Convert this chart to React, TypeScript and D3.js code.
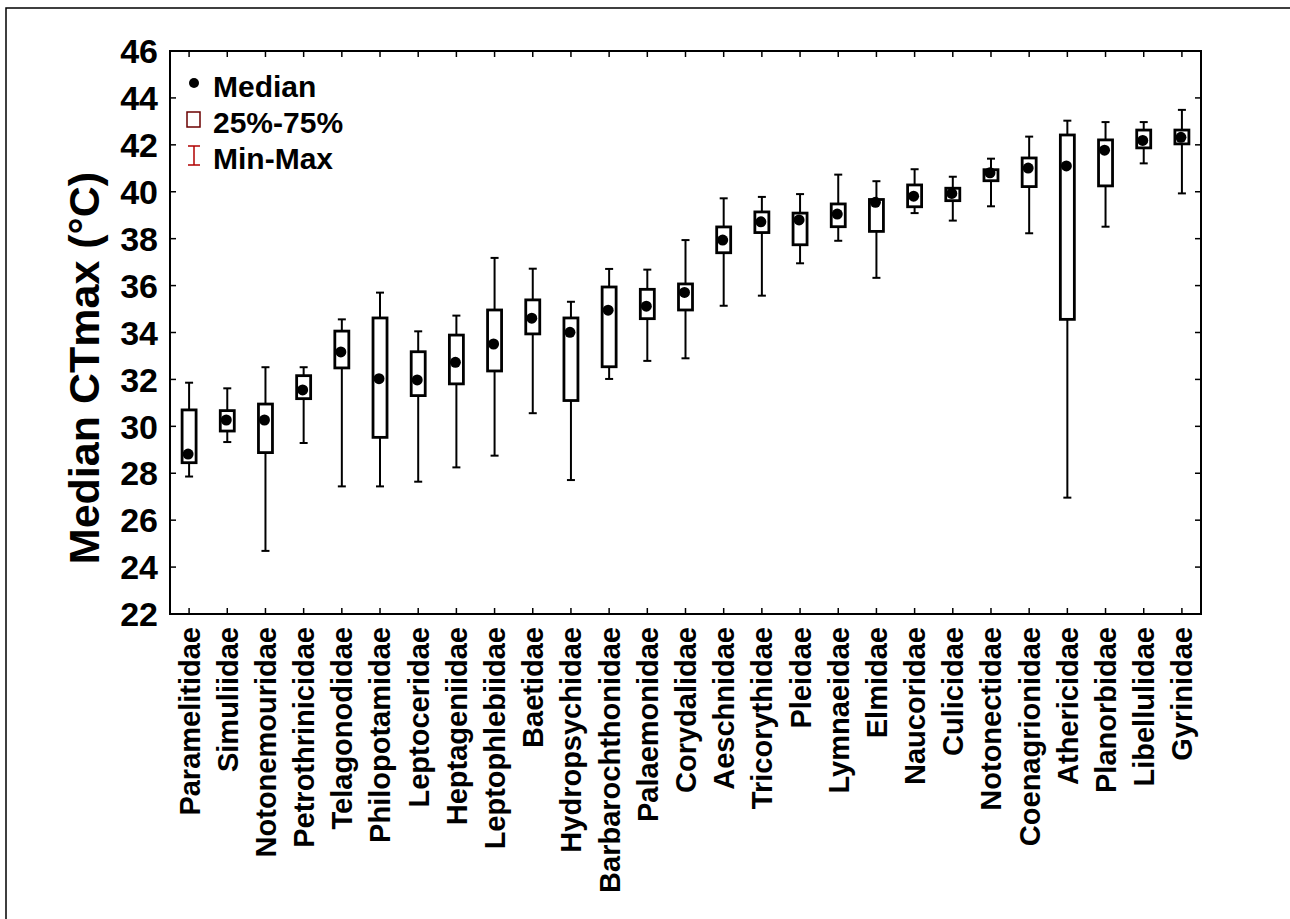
import * as d3 from 'd3'
import { useEffect, useRef } from 'react'

const families = [
    'Paramelitidae', 'Simuliidae', 'Notonemouridae', 'Petrothrinicidae',
    'Telagonodidae', 'Philopotamidae', 'Leptoceridae', 'Heptageniidae',
    'Leptophlebiidae', 'Baetidae', 'Hydropsychidae', 'Barbarochthonidae',
    'Palaemonidae', 'Corydalidae', 'Aeschnidae', 'Tricorythidae', 'Pleidae',
    'Lymnaeidae', 'Elmidae', 'Naucoridae', 'Culicidae', 'Notonectidae',
    'Coenagrionidae', 'Athericidae', 'Planorbidae', 'Libellulidae', 'Gyrinidae',
]
const minValues = [
    27.86, 29.33, 24.69, 29.29, 27.44, 27.44, 27.64, 28.25, 28.75, 30.56,
    27.71, 32.02, 32.79, 32.9, 35.14, 35.57, 36.95, 37.91, 36.33, 39.09,
    38.77, 39.38, 38.23, 26.96, 38.51, 41.21, 39.93,
]
const q1Values = [
    28.45, 29.8, 28.88, 31.18, 32.49, 29.53, 31.31, 31.81, 32.36, 33.94,
    31.1, 32.54, 34.59, 34.96, 37.4, 38.26, 37.74, 38.51, 38.31, 39.36,
    39.62, 40.47, 40.22, 34.56, 40.25, 41.87, 42.04,
]
const medianValues = [
    28.82, 30.27, 30.27, 31.55, 33.17, 32.03, 31.98, 32.73, 33.51, 34.61,
    34.01, 34.95, 35.12, 35.71, 37.94, 38.72, 38.8, 39.05, 39.55, 39.81,
    39.93, 40.81, 41.01, 41.1, 41.77, 42.19, 42.32,
]
const q3Values = [
    30.7, 30.67, 30.95, 32.16, 34.06, 34.62, 33.18, 33.89, 34.96, 35.39,
    34.62, 35.94, 35.84, 36.07, 38.5, 39.14, 39.09, 39.48, 39.67, 40.29,
    40.15, 40.94, 41.44, 42.42, 42.21, 42.63, 42.63,
]
const maxValues = [
    31.86, 31.62, 32.52, 32.52, 34.56, 35.7, 34.05, 34.72, 37.18, 36.72,
    35.31, 36.71, 36.68, 37.94, 39.72, 39.78, 39.9, 40.73, 40.45, 40.96,
    40.64, 41.41, 42.35, 43.03, 42.97, 42.97, 43.49,
]
const yTicks = [22, 24, 26, 28, 30, 32, 34, 36, 38, 40, 42, 44, 46]

const width = 1290
const height = 919
const FONT = '"Liberation Sans", Arial, sans-serif'

export default function App() {
    const svgRef = useRef<SVGSVGElement>(null)

    useEffect(() => {
        if (!svgRef.current) return
        const svg = d3.select(svgRef.current)
        svg.selectAll('*').remove()

        const margin = { top: 51, right: 89, bottom: 305, left: 170 }
        const x = d3
            .scaleBand()
            .domain(families)
            .range([margin.left, width - margin.right])
        const y = d3
            .scaleLinear()
            .domain([22, 46])
            .range([height - margin.bottom, margin.top])
        const cx = (i: number) => (x(families[i]) as number) + x.bandwidth() / 2

        // outer frame (runs off the right/bottom edge)
        svg.append('rect')
            .attr('x', 6).attr('y', 8)
            .attr('width', width + 20).attr('height', height + 20)
            .attr('fill', 'none').attr('stroke', '#000').attr('stroke-width', 1.5)

        const x0 = margin.left
        const x1 = width - margin.right
        const y0 = height - margin.bottom
        const y1 = margin.top

        // ticks, all pointing inward
        const tickLen = 6
        const g = svg.append('g').attr('stroke', '#000').attr('stroke-width', 1.5)
        yTicks.forEach((t) => {
            g.append('line').attr('x1', x0).attr('x2', x0 + tickLen).attr('y1', y(t)).attr('y2', y(t))
            g.append('line').attr('x1', x1).attr('x2', x1 - tickLen).attr('y1', y(t)).attr('y2', y(t))
        })
        families.forEach((_, i) => {
            g.append('line').attr('x1', cx(i)).attr('x2', cx(i)).attr('y1', y0).attr('y2', y0 - tickLen)
            g.append('line').attr('x1', cx(i)).attr('x2', cx(i)).attr('y1', y1).attr('y2', y1 + tickLen)
        })

        // whiskers
        const wg = svg.append('g').attr('stroke', '#000').attr('stroke-width', 2)
        families.forEach((_, i) => {
            const c = cx(i)
            wg.append('line').attr('x1', c).attr('x2', c).attr('y1', y(maxValues[i])).attr('y2', y(minValues[i]))
            wg.append('line').attr('x1', c - 4).attr('x2', c + 4).attr('y1', y(maxValues[i])).attr('y2', y(maxValues[i]))
            wg.append('line').attr('x1', c - 4).attr('x2', c + 4).attr('y1', y(minValues[i])).attr('y2', y(minValues[i]))
        })

        // boxes
        const boxW = 14
        svg.append('g')
            .selectAll('rect')
            .data(families)
            .enter()
            .append('rect')
            .attr('x', (_, i) => cx(i) - boxW / 2)
            .attr('y', (_, i) => y(q3Values[i]))
            .attr('width', boxW)
            .attr('height', (_, i) => y(q1Values[i]) - y(q3Values[i]))
            .attr('fill', '#fff')
            .attr('stroke', '#000')
            .attr('stroke-width', 2.8)

        // medians
        svg.append('g')
            .selectAll('circle')
            .data(medianValues)
            .enter()
            .append('circle')
            .attr('cx', (_, i) => cx(i) - 1)
            .attr('cy', (d) => y(d))
            .attr('r', 5.5)
            .attr('fill', '#000')

        // plot frame
        svg.append('rect')
            .attr('x', x0).attr('y', y1)
            .attr('width', x1 - x0).attr('height', y0 - y1)
            .attr('fill', 'none').attr('stroke', '#000').attr('stroke-width', 2)

        // y tick labels
        svg.append('g')
            .selectAll('text')
            .data(yTicks)
            .enter()
            .append('text')
            .attr('x', x0 - 12)
            .attr('y', (d) => y(d))
            .attr('dy', '0.36em')
            .attr('text-anchor', 'end')
            .style('font-family', FONT)
            .style('font-weight', 'bold')
            .style('font-size', '34px')
            .text((d) => d)

        // x labels
        svg.append('g')
            .selectAll('text')
            .data(families)
            .enter()
            .append('text')
            .attr('transform', (_, i) => `translate(${cx(i)},${y0 + 13}) rotate(-90)`)
            .attr('dy', '0.36em')
            .attr('text-anchor', 'end')
            .style('font-family', FONT)
            .style('font-weight', 'bold')
            .style('font-size', '29px')
            .text((d) => d)

        // y axis title
        svg.append('text')
            .attr('transform', `translate(84,368) rotate(-90)`)
            .attr('dy', '0.36em')
            .attr('text-anchor', 'middle')
            .style('font-family', FONT)
            .style('font-weight', 'bold')
            .style('font-size', '43px')
            .text('Median CTmax (°C)')

        // legend
        const lg = svg.append('g')
        const legendText = (ty: number, s: string) =>
            lg.append('text')
                .attr('x', 213).attr('y', ty)
                .attr('dy', '0.36em')
                .style('font-family', FONT)
                .style('font-weight', 'bold')
                .style('font-size', '30px')
                .text(s)
        lg.append('circle').attr('cx', 194).attr('cy', 83).attr('r', 5).attr('fill', '#000')
        legendText(86, 'Median')
        lg.append('rect')
            .attr('x', 187).attr('y', 112).attr('width', 13).attr('height', 15)
            .attr('fill', '#fff').attr('stroke', '#6b0000').attr('stroke-width', 1.5)
        legendText(122, '25%-75%')
        const lw = lg.append('g').attr('stroke', '#b00000').attr('stroke-width', 1.5)
        lw.append('line').attr('x1', 194).attr('x2', 194).attr('y1', 146).attr('y2', 165)
        lw.append('line').attr('x1', 188).attr('x2', 200).attr('y1', 146).attr('y2', 146)
        lw.append('line').attr('x1', 188).attr('x2', 200).attr('y1', 165).attr('y2', 165)
        legendText(158, 'Min-Max')
    }, [])

    return (
        <svg
            ref={svgRef}
            width={width}
            height={height}
            style={{ position: 'absolute', left: 0, top: 0, background: '#fff' }}
        />
    )
}
